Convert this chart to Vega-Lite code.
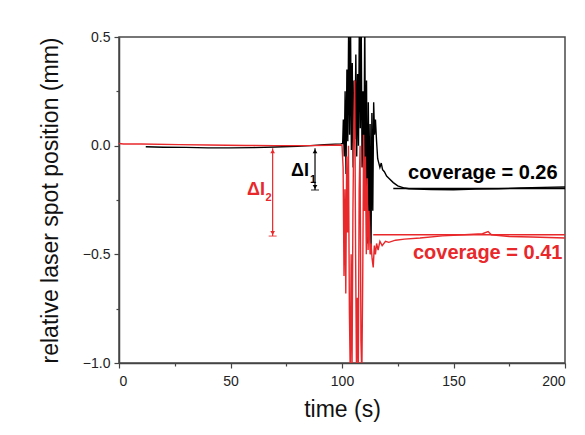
{
  "$schema": "https://vega.github.io/schema/vega-lite/v6.json",
  "width": 446,
  "height": 326,
  "autosize": "none",
  "padding": {"left": 119, "top": 37, "right": 20, "bottom": 72},
  "background": "white",
  "config": {
    "font": "Liberation Sans",
    "view": {"stroke": "#4a4a4a", "strokeWidth": 1.5},
    "axis": {
      "grid": false,
      "domainColor": "#444444",
      "domainWidth": 1.5,
      "tickColor": "#444444",
      "tickWidth": 1.2,
      "labelFont": "Liberation Sans",
      "labelFontSize": 14,
      "labelColor": "#222222",
      "titleFont": "Liberation Sans",
      "titleFontSize": 23,
      "titleFontWeight": "normal",
      "titleColor": "#111111"
    }
  },
  "datasets": {
    "sig": [
      {"t": 12, "v": -0.005, "s": "black"},
      {"t": 20, "v": -0.007, "s": "black"},
      {"t": 30, "v": -0.008, "s": "black"},
      {"t": 40, "v": -0.01, "s": "black"},
      {"t": 50, "v": -0.01, "s": "black"},
      {"t": 60, "v": -0.009, "s": "black"},
      {"t": 70, "v": -0.006, "s": "black"},
      {"t": 80, "v": -0.003, "s": "black"},
      {"t": 86, "v": 0.0, "s": "black"},
      {"t": 92, "v": 0.004, "s": "black"},
      {"t": 97, "v": 0.007, "s": "black"},
      {"t": 99.5, "v": 0.008, "s": "black"},
      {"t": 100.3, "v": 0.01, "s": "black"},
      {"t": 100.6, "v": 0.12, "s": "black"},
      {"t": 101.0, "v": -0.05, "s": "black"},
      {"t": 101.4, "v": 0.25, "s": "black"},
      {"t": 101.8, "v": -0.13, "s": "black"},
      {"t": 102.2, "v": 0.35, "s": "black"},
      {"t": 102.6, "v": 0.02, "s": "black"},
      {"t": 103.0, "v": 0.58, "s": "black"},
      {"t": 103.4, "v": 0.05, "s": "black"},
      {"t": 103.8, "v": 0.6, "s": "black"},
      {"t": 104.2, "v": -0.02, "s": "black"},
      {"t": 104.6, "v": 0.38, "s": "black"},
      {"t": 105.0, "v": -0.1, "s": "black"},
      {"t": 105.4, "v": 0.3, "s": "black"},
      {"t": 105.8, "v": 0.03, "s": "black"},
      {"t": 106.2, "v": 0.42, "s": "black"},
      {"t": 106.6, "v": -0.05, "s": "black"},
      {"t": 107.0, "v": 0.33, "s": "black"},
      {"t": 107.4, "v": 0.0, "s": "black"},
      {"t": 107.8, "v": 0.6, "s": "black"},
      {"t": 108.2, "v": 0.08, "s": "black"},
      {"t": 108.6, "v": 0.58, "s": "black"},
      {"t": 109.0, "v": -0.1, "s": "black"},
      {"t": 109.4, "v": 0.25, "s": "black"},
      {"t": 109.8, "v": -0.2, "s": "black"},
      {"t": 110.2, "v": 0.6, "s": "black"},
      {"t": 110.6, "v": -0.25, "s": "black"},
      {"t": 111.0, "v": 0.3, "s": "black"},
      {"t": 111.4, "v": -0.45, "s": "black"},
      {"t": 111.8, "v": 0.2, "s": "black"},
      {"t": 112.2, "v": -0.35, "s": "black"},
      {"t": 112.6, "v": 0.1, "s": "black"},
      {"t": 113.0, "v": -0.5, "s": "black"},
      {"t": 113.4, "v": 0.15, "s": "black"},
      {"t": 113.8, "v": -0.3, "s": "black"},
      {"t": 114.2, "v": 0.2, "s": "black"},
      {"t": 114.6, "v": 0.05, "s": "black"},
      {"t": 115.0, "v": 0.12, "s": "black"},
      {"t": 115.5, "v": 0.02, "s": "black"},
      {"t": 116.0, "v": -0.06, "s": "black"},
      {"t": 117.0, "v": -0.1, "s": "black"},
      {"t": 117.6, "v": -0.08, "s": "black"},
      {"t": 118.2, "v": -0.11, "s": "black"},
      {"t": 119, "v": -0.12, "s": "black"},
      {"t": 120, "v": -0.14, "s": "black"},
      {"t": 121, "v": -0.15, "s": "black"},
      {"t": 123, "v": -0.17, "s": "black"},
      {"t": 125, "v": -0.185, "s": "black"},
      {"t": 128, "v": -0.195, "s": "black"},
      {"t": 130, "v": -0.198, "s": "black"},
      {"t": 140, "v": -0.202, "s": "black"},
      {"t": 150, "v": -0.203, "s": "black"},
      {"t": 160, "v": -0.2, "s": "black"},
      {"t": 170, "v": -0.198, "s": "black"},
      {"t": 180, "v": -0.195, "s": "black"},
      {"t": 190, "v": -0.192, "s": "black"},
      {"t": 200, "v": -0.19, "s": "black"},
      {"t": 123, "v": -0.197, "s": "blackfit"},
      {"t": 200, "v": -0.197, "s": "blackfit"},
      {"t": 0, "v": 0.01, "s": "red"},
      {"t": 2, "v": 0.008, "s": "red"},
      {"t": 10, "v": 0.008, "s": "red"},
      {"t": 27, "v": 0.005, "s": "red"},
      {"t": 40, "v": 0.003, "s": "red"},
      {"t": 57, "v": 0.001, "s": "red"},
      {"t": 70, "v": 0.0, "s": "red"},
      {"t": 85, "v": 0.0, "s": "red"},
      {"t": 95, "v": 0.002, "s": "red"},
      {"t": 100, "v": 0.003, "s": "red"},
      {"t": 100.5, "v": -0.1, "s": "red"},
      {"t": 100.9, "v": -0.6, "s": "red"},
      {"t": 101.3, "v": -0.2, "s": "red"},
      {"t": 101.7, "v": -0.68, "s": "red"},
      {"t": 102.1, "v": -0.05, "s": "red"},
      {"t": 102.5, "v": -0.4, "s": "red"},
      {"t": 102.9, "v": 0.0, "s": "red"},
      {"t": 103.3, "v": -0.75, "s": "red"},
      {"t": 103.7, "v": -1.05, "s": "red"},
      {"t": 104.1, "v": -0.5, "s": "red"},
      {"t": 104.5, "v": -1.05, "s": "red"},
      {"t": 104.9, "v": -0.3, "s": "red"},
      {"t": 105.3, "v": 0.1, "s": "red"},
      {"t": 105.7, "v": 0.3, "s": "red"},
      {"t": 106.1, "v": -0.5, "s": "red"},
      {"t": 106.5, "v": -1.05, "s": "red"},
      {"t": 106.9, "v": -0.7, "s": "red"},
      {"t": 107.3, "v": -1.05, "s": "red"},
      {"t": 107.7, "v": -0.2, "s": "red"},
      {"t": 108.1, "v": 0.0, "s": "red"},
      {"t": 108.5, "v": -0.9, "s": "red"},
      {"t": 108.9, "v": -1.05, "s": "red"},
      {"t": 109.3, "v": -0.6, "s": "red"},
      {"t": 109.7, "v": 0.05, "s": "red"},
      {"t": 110.1, "v": -0.3, "s": "red"},
      {"t": 110.5, "v": -0.05, "s": "red"},
      {"t": 110.9, "v": -0.5, "s": "red"},
      {"t": 111.3, "v": -0.15, "s": "red"},
      {"t": 111.7, "v": -0.48, "s": "red"},
      {"t": 112.1, "v": -0.3, "s": "red"},
      {"t": 112.6, "v": -0.5, "s": "red"},
      {"t": 113.0, "v": -0.45, "s": "red"},
      {"t": 113.5, "v": -0.52, "s": "red"},
      {"t": 114.0, "v": -0.56, "s": "red"},
      {"t": 114.5, "v": -0.46, "s": "red"},
      {"t": 115.0, "v": -0.5, "s": "red"},
      {"t": 115.5, "v": -0.45, "s": "red"},
      {"t": 116.2, "v": -0.48, "s": "red"},
      {"t": 117, "v": -0.44, "s": "red"},
      {"t": 118, "v": -0.46, "s": "red"},
      {"t": 119.5, "v": -0.44, "s": "red"},
      {"t": 121, "v": -0.445, "s": "red"},
      {"t": 124, "v": -0.435, "s": "red"},
      {"t": 128, "v": -0.43, "s": "red"},
      {"t": 135, "v": -0.425, "s": "red"},
      {"t": 145, "v": -0.415, "s": "red"},
      {"t": 155, "v": -0.41, "s": "red"},
      {"t": 163, "v": -0.405, "s": "red"},
      {"t": 165.5, "v": -0.395, "s": "red"},
      {"t": 167, "v": -0.41, "s": "red"},
      {"t": 175, "v": -0.418, "s": "red"},
      {"t": 185, "v": -0.42, "s": "red"},
      {"t": 200, "v": -0.425, "s": "red"},
      {"t": 114, "v": -0.41, "s": "redfit"},
      {"t": 200, "v": -0.41, "s": "redfit"}
    ],
    "arrows": [
      {"t": 87.9, "top": -0.012, "bot": -0.204, "s": "black"},
      {"t": 68.9, "top": -0.012, "bot": -0.416, "s": "red"}
    ],
    "labels": [
      {"t": 129.6, "v": -0.155, "text": "coverage = 0.26", "s": "black", "kind": "cov"},
      {"t": 131.8, "v": -0.523, "text": "coverage = 0.41", "s": "red", "kind": "cov"},
      {"t": 85.2, "v": -0.116, "text": "ΔI", "s": "black", "kind": "delta"},
      {"t": 65.5, "v": -0.204, "text": "ΔI", "s": "red", "kind": "delta"},
      {"t": 85.6, "v": -0.158, "text": "1", "s": "black", "kind": "sub"},
      {"t": 65.7, "v": -0.243, "text": "2", "s": "red", "kind": "sub"}
    ]
  },
  "encoding": {
    "x": {
      "field": "t",
      "type": "quantitative",
      "scale": {"domain": [0, 200], "nice": false, "zero": false},
      "axis": {
        "title": "time (s)",
        "values": [0, 25, 50, 75, 100, 125, 150, 175, 200],
        "labelExpr": "datum.value % 50 === 0 ? datum.label : ''",
        "tickSize": {"condition": {"test": "datum.value % 50 === 0", "value": 5}, "value": 3},
        "labelPadding": 6,
        "titlePadding": 10
      }
    },
    "color": {
      "field": "s",
      "type": "nominal",
      "scale": {"domain": ["black", "red", "blackfit", "redfit"], "range": ["#000000", "#e8282b", "#000000", "#e8282b"]},
      "legend": null
    }
  },
  "layer": [
    {
      "data": {"name": "sig"},
      "mark": {"type": "line", "clip": true, "strokeWidth": 1.4},
      "encoding": {
        "y": {
          "field": "v",
          "type": "quantitative",
          "scale": {"domain": [-1, 0.5], "nice": false, "zero": false},
          "axis": {
            "title": "relative laser spot position (mm)",
            "values": [-1, -0.75, -0.5, -0.25, 0, 0.25, 0.5],
            "format": ".1f",
            "labelExpr": "abs(datum.value * 2 - round(datum.value * 2)) < 0.001 ? datum.label : ''",
            "tickSize": {"condition": {"test": "abs(datum.value * 2 - round(datum.value * 2)) < 0.001", "value": 5}, "value": 3},
            "labelPadding": 4,
            "titlePadding": 20
          }
        },
        "detail": {"field": "s"}
      }
    },
    {
      "data": {"name": "arrows"},
      "mark": {"type": "rule", "strokeWidth": 1.2},
      "encoding": {
        "y": {"field": "top", "type": "quantitative"},
        "y2": {"field": "bot"}
      }
    },
    {
      "data": {"name": "arrows"},
      "mark": {"type": "point", "shape": "triangle-up", "filled": true, "size": 22, "opacity": 1, "yOffset": 3},
      "encoding": {
        "y": {"field": "top", "type": "quantitative"}
      }
    },
    {
      "data": {"name": "arrows"},
      "mark": {"type": "point", "shape": "triangle-down", "filled": true, "size": 22, "opacity": 1, "yOffset": -3},
      "encoding": {
        "y": {"field": "bot", "type": "quantitative"}
      }
    },
    {
      "data": {"name": "arrows"},
      "mark": {"type": "tick", "orient": "horizontal", "size": 8, "thickness": 1.2},
      "encoding": {
        "y": {"field": "bot", "type": "quantitative"}
      }
    },
    {
      "data": {"name": "labels"},
      "transform": [{"filter": "datum.kind === 'cov'"}],
      "mark": {"type": "text", "align": "left", "baseline": "alphabetic", "fontSize": 20, "fontWeight": "bold", "font": "Liberation Sans"},
      "encoding": {
        "y": {"field": "v", "type": "quantitative"},
        "text": {"field": "text"}
      }
    },
    {
      "data": {"name": "labels"},
      "transform": [{"filter": "datum.kind === 'delta'"}],
      "mark": {"type": "text", "align": "right", "baseline": "middle", "fontSize": 18, "fontWeight": "bold", "font": "Liberation Sans"},
      "encoding": {
        "y": {"field": "v", "type": "quantitative"},
        "text": {"field": "text"}
      }
    },
    {
      "data": {"name": "labels"},
      "transform": [{"filter": "datum.kind === 'sub'"}],
      "mark": {"type": "text", "align": "left", "baseline": "middle", "fontSize": 11, "fontWeight": "bold", "font": "Liberation Sans"},
      "encoding": {
        "y": {"field": "v", "type": "quantitative"},
        "text": {"field": "text"}
      }
    }
  ]
}
